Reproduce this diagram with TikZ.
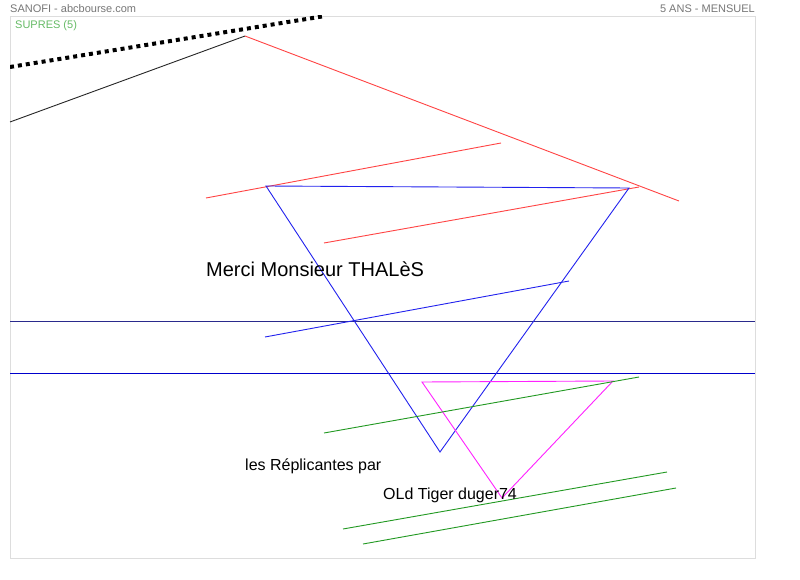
\documentclass[tikz,border=0pt]{standalone}
\usepackage{fontspec}
\setmainfont{Liberation Sans}
\definecolor{framegray}{HTML}{DDDDDD}
\definecolor{titlegray}{HTML}{777777}
\definecolor{supgreen}{HTML}{66BB66}
\definecolor{navy}{HTML}{2A2A8C}
\definecolor{lblue}{HTML}{0000CC}
\definecolor{tblue}{HTML}{2222EE}
\definecolor{tred}{HTML}{FF4444}
\definecolor{tgreen}{HTML}{229922}
\definecolor{tmag}{HTML}{FF22FF}
\tikzset{
  title/.style={inner sep=0pt, text=titlegray, font=\fontsize{11}{12}\selectfont},
  lbl/.style={inner sep=0pt, anchor=west, text=black},
  trend/.style={line width=0.9pt},
}
\begin{document}
\begin{tikzpicture}[x=1pt,y=-1pt]
\useasboundingbox (0,0) rectangle (800,580);
\fill[white] (0,0) rectangle (800,580);
\draw[framegray, line width=1pt] (10,17) rectangle (755,558);
\node[title, anchor=west] (src) at (10,8.5) {SANOFI - abcbourse.com};
\node[title, anchor=east] (per) at (755,8.5) {5 ANS - MENSUEL};
\node[inner sep=0pt, anchor=west, text=supgreen, font=\fontsize{11}{12}\selectfont] (sup) at (15,25.5) {SUPRES (5)};
\begin{scope}
\clip (10,16) rectangle (755,558);
\draw[line width=4pt, dash pattern=on 4pt off 4pt] (10,67) -- (325,16);
\end{scope}
\draw[trend, black!85] (10,122) -- (245,36);
\draw[trend, tred] (245,36) -- (679,201);
\draw[trend, tred] (206,198) -- (501,143);
\draw[trend, tred] (324,243) -- (639,187);
\draw[trend, navy] (10,321) -- (755,321);
\draw[trend, lblue] (10,373) -- (755,373);
\draw[trend, tblue] (266,186) -- (629,188) -- (440,452) -- cycle;
\draw[trend, tblue] (265,337) -- (569,281);
\draw[trend, tmag] (422,382) -- (613,381) -- (502,498) -- cycle;
\draw[trend, tgreen] (324,433) -- (639,377);
\draw[trend, tgreen] (343,529) -- (667,472);
\draw[trend, tgreen] (363,544) -- (676,488);
\node[lbl, font=\fontsize{20}{22}\selectfont] (merci) at (206,269) {Merci Monsieur THALèS};
\node[lbl, font=\fontsize{16}{18}\selectfont] (repl) at (245,466.5) {les Réplicantes par};
\node[lbl, font=\fontsize{16}{18}\selectfont] (tiger) at (383,495) {OLd Tiger duger74};
\end{tikzpicture}
\end{document}
